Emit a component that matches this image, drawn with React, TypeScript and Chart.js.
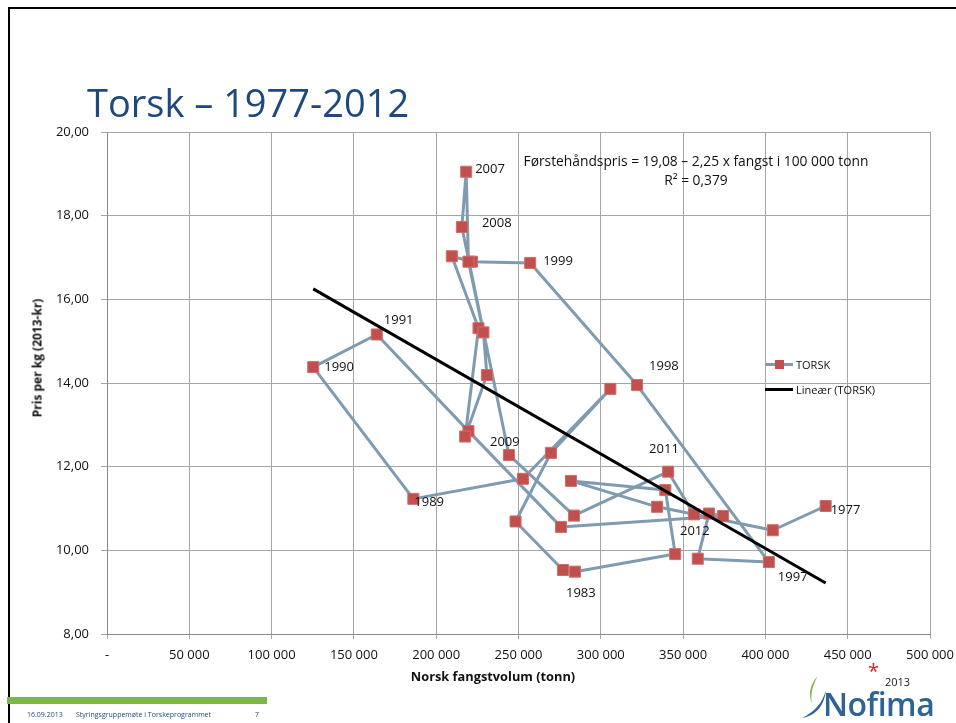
import React, { useEffect, useRef } from "react";
import { Chart, registerables } from "chart.js";

Chart.register(...registerables);

// ---- data ----
const years = [
  1977, 1978, 1979, 1980, 1981, 1982, 1983, 1984, 1985, 1986, 1987, 1988,
  1989, 1990, 1991, 1992, 1993, 1994, 1995, 1996, 1997, 1998, 1999, 2000,
  2001, 2002, 2003, 2004, 2005, 2006, 2007, 2008, 2009, 2010, 2011, 2012,
];
const catchTonnes = [
  436600, 404500, 334200, 281900, 339200, 345200, 284300, 277000, 248200, 269700, 305800, 252700,
  186100, 125300, 163900, 219600, 275800, 374300, 365700, 358900, 402100, 322000, 257100, 221700,
  209500, 225700, 217600, 230800, 228700, 219600, 218200, 215600, 244200, 283700, 340900, 356600,
];
const pricePerKg = [
  11.06, 10.48, 11.04, 11.66, 11.44, 9.91, 9.49, 9.53, 10.69, 12.33, 13.86, 11.71,
  11.23, 14.38, 15.16, 12.85, 10.56, 10.82, 10.88, 9.8, 9.72, 13.95, 16.87, 16.9,
  17.03, 15.31, 12.72, 14.19, 15.21, 16.9, 19.05, 17.73, 12.28, 10.83, 11.88, 10.86,
];
const labeledYears = [1977, 1983, 1989, 1990, 1991, 1997, 1998, 1999, 2007, 2008, 2009, 2011, 2012];
const trendCatch = [125300, 436600];
const trendPrice = [16.25, 9.22];
const xTickMin = 0;
const xTickMax = 500000;
const xTickStep = 50000;
const yTickMin = 8;
const yTickMax = 20;
const yTickStep = 2;
const seriesName = "TORSK";
const trendName = "Lineær (TORSK)";
const equationLines = ["Førstehåndspris = 19,08 – 2,25 x fangst i 100 000 tonn", "R² = 0,379"];

// ---- styling (label offsets from point, px) ----
const labelOffsets: Record<number, [number, number]> = {
  1977: [5, 4], 1983: [-9, 22], 1989: [1, 3], 1990: [11, 0], 1991: [7, -14],
  1997: [9, 15], 1998: [12, -19], 1999: [13, -2], 2007: [9, -2], 2008: [20, -4],
  2009: [-19, -13], 2011: [-19, -22], 2012: [-14, 17],
};

const FONT = '"Open Sans", "Noto Sans", sans-serif';
const LINE_COLOR = "#7E9BB0";
const MARKER_COLOR = "#C0504D";
const GRID = "#A6A6A6";

function fmtThousands(v: number) {
  return String(Math.round(v)).replace(/\B(?=(\d{3})+(?!\d))/g, " ");
}

export default function App() {
  const ref = useRef<HTMLCanvasElement | null>(null);

  useEffect(() => {
    const canvas = ref.current;
    if (!canvas) return;
    const labelPlugin = {
      id: "yearLabels",
      afterDatasetsDraw(chart: any) {
        const idx = chart.data.datasets.findIndex((d: any) => d.label === seriesName);
        const meta = chart.getDatasetMeta(idx);
        const c = chart.ctx;
        c.save();
        c.font = `13px ${FONT}`;
        c.fillStyle = "#111";
        c.textAlign = "left";
        c.textBaseline = "middle";
        labeledYears.forEach((y) => {
          const i = years.indexOf(y);
          const p = meta.data[i];
          const off = labelOffsets[y] || [8, 0];
          c.fillText(String(y), p.x + off[0], p.y + off[1]);
        });
        c.restore();
      },
    };

    const chart = new Chart(canvas, {
      type: "scatter",
      data: {
        datasets: [
          {
            label: trendName,
            data: trendCatch.map((x, i) => ({ x, y: trendPrice[i] })),
            showLine: true,
            borderColor: "#000",
            borderWidth: 3,
            pointRadius: 0,
            order: 0,
          },
          {
            label: seriesName,
            data: catchTonnes.map((x, i) => ({ x, y: pricePerKg[i] })),
            showLine: true,
            borderColor: LINE_COLOR,
            borderWidth: 3,
            borderJoinStyle: "round",
            borderCapStyle: "round",
            pointStyle: "rect",
            pointRadius: 7.8,
            pointBackgroundColor: MARKER_COLOR,
            pointBorderColor: "#CF6F6C",
            pointBorderWidth: 1,
            order: 1,
          },
        ],
      },
      options: {
        responsive: false,
        animation: false,
        devicePixelRatio: 1,
        layout: { padding: { top: 132, right: 26, bottom: 59, left: 0 } },
        plugins: {
          legend: { display: false },
          tooltip: { enabled: false },
        },
        scales: {
          x: {
            type: "linear",
            min: xTickMin,
            max: xTickMax,
            ticks: {
              stepSize: xTickStep,
              color: "#111",
              font: { family: FONT, size: 13 },
              padding: 8,
              maxRotation: 0,
              callback: (v: any) => (Number(v) === 0 ? "-" : fmtThousands(Number(v))),
            },
            grid: { color: GRID, tickLength: 5, lineWidth: 1 },
            border: { color: "#8A8A8A" },
            afterFit: (s: any) => {
              s.height = 30;
              s.paddingLeft = 0;
              s.paddingRight = 0;
            },
          },
          y: {
            type: "linear",
            min: yTickMin,
            max: yTickMax,
            ticks: {
              stepSize: yTickStep,
              color: "#111",
              font: { family: FONT, size: 13 },
              padding: 12,
              callback: (v: any) => Number(v).toFixed(2).replace(".", ","),
            },
            grid: { color: GRID, tickLength: 6, lineWidth: 1 },
            border: { color: "#8A8A8A" },
            afterFit: (s: any) => {
              s.width = 107;
              s.paddingTop = 0;
              s.paddingBottom = 0;
            },
          },
        },
      },
      plugins: [labelPlugin],
    });
    return () => chart.destroy();
  }, []);

  const abs: React.CSSProperties = { position: "absolute", whiteSpace: "nowrap", fontFamily: FONT };

  return (
    <div style={{ position: "absolute", left: 0, top: 0, width: 956, height: 723, overflow: "hidden", background: "#fff" }}>
      <div style={{ position: "absolute", left: 8, top: 7, width: 948, height: 716, borderTop: "2px solid #000", borderLeft: "2px solid #000", boxSizing: "border-box" }} />
      <canvas ref={ref} width={956} height={723} style={{ position: "absolute", left: 0, top: 0, width: 956, height: 723 }} />
      <div style={{ ...abs, left: 87, top: 80, fontSize: 38, lineHeight: "44px", color: "#1F497D" }}>Torsk – 1977-2012</div>
      <div style={{ ...abs, left: 696, top: 151, transform: "translateX(-50%)", fontSize: 13.8, lineHeight: "19px", color: "#111", textAlign: "center" }}>
        {equationLines.map((l, i) => (
          <div key={i}>{l}</div>
        ))}
      </div>
      <div style={{ ...abs, left: 493, top: 676, transform: "translate(-50%,-50%)", fontSize: 12.8, fontWeight: 700, color: "#111" }}>Norsk fangstvolum (tonn)</div>
      <div style={{ ...abs, left: 37, top: 358, transform: "translate(-50%,-50%) rotate(-90deg)", fontSize: 12, fontWeight: 700, color: "#111" }}>Pris per kg (2013-kr)</div>
      {/* legend */}
      <div style={{ position: "absolute", left: 765, top: 362.5, width: 28, height: 3, background: LINE_COLOR }} />
      <div style={{ position: "absolute", left: 774.5, top: 359.5, width: 9, height: 9, background: MARKER_COLOR }} />
      <div style={{ ...abs, left: 796, top: 364, transform: "translateY(-50%)", fontSize: 11, color: "#111" }}>{seriesName}</div>
      <div style={{ position: "absolute", left: 765, top: 387.5, width: 28, height: 3, background: "#000" }} />
      <div style={{ ...abs, left: 796, top: 389, transform: "translateY(-50%)", fontSize: 11, color: "#111" }}>{trendName}</div>
      {/* footer */}
      <div style={{ position: "absolute", left: 7, top: 697, width: 260, height: 7, background: "#7AB648" }} />
      <div style={{ ...abs, left: 27, top: 714, transform: "translateY(-50%)", fontSize: 7, color: "#1F497D" }}>16.09.2013</div>
      <div style={{ ...abs, left: 76, top: 714, transform: "translateY(-50%)", fontSize: 7, color: "#1F497D" }}>Styringsgruppemøte i Torskeprogrammet</div>
      <div style={{ ...abs, left: 255, top: 714, transform: "translateY(-50%)", fontSize: 7, color: "#1F497D" }}>7</div>
      {/* Nofima logo */}
      <svg style={{ position: "absolute", left: 800, top: 674 }} width={30} height={46} viewBox="0 0 30 46">
        <path d="M18 2 C10 10 8 20 12 30 C10 20 13 10 18 2 Z" fill="#7AB648" />
        <path d="M2 44 C14 42 24 34 26 16 C22 30 14 38 2 44 Z" fill="#2F6396" />
      </svg>
      <div style={{ ...abs, left: 823, top: 703, transform: "translateY(-50%)", fontSize: 32, fontWeight: 600, color: "#2F6396", letterSpacing: -0.5 }}>Nofima</div>
      <div style={{ ...abs, left: 868, top: 670, transform: "translateY(-50%)", fontSize: 20, color: "#E0201C" }}>*</div>
      <div style={{ ...abs, left: 885, top: 681, transform: "translateY(-50%)", fontSize: 11, color: "#222" }}>2013</div>
    </div>
  );
}
